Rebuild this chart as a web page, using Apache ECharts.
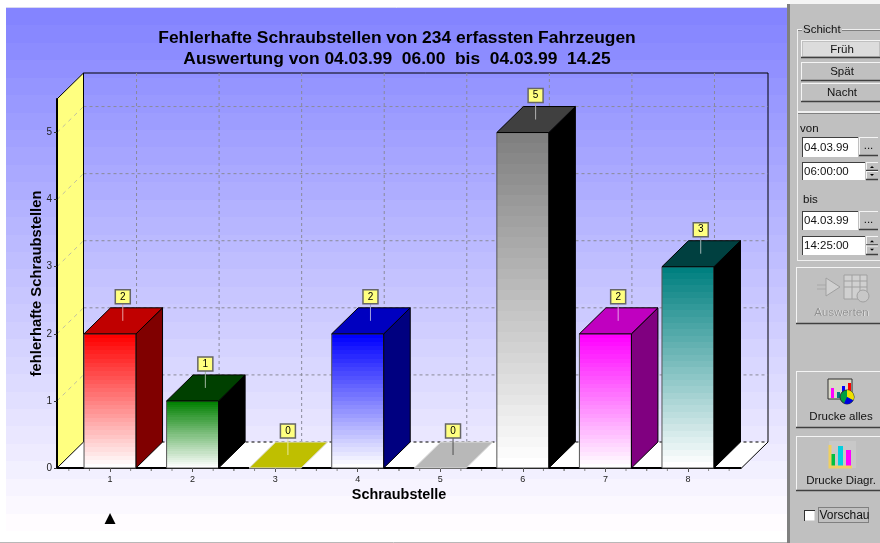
<!DOCTYPE html>
<html><head><meta charset="utf-8">
<style>html,body{margin:0;padding:0;background:#fff}#c{width:880px;height:543px}</style>
<script src="https://cdn.jsdelivr.net/npm/echarts@6/dist/echarts.min.js"></script>
</head><body><div id="c"></div>
<script>
const categories = ['1','2','3','4','5','6','7','8'];
const values = [2,1,0,2,0,5,2,3];
const frontColors = ['#ff0000','#008000','#bfbf00','#0000ff','#b8b8b8','#808080','#ff00ff','#008080'];
const topColors   = ['#c00000','#004000','#bfbf00','#0000c0','#b8b8b8','#404040','#c000c0','#004040'];
const sideColors  = ['#800000','#000000','#000000','#000080','#000000','#000000','#800080','#000000'];
const leaderColors= ['#e8a0a0','#a0b8a0','#e8e8a0','#a0a0e0','#505050','#b0b0b0','#e8a0e8','#a0b8b8'];
const titleText = 'Fehlerhafte Schraubstellen von 234 erfassten Fahrzeugen\nAuswertung von 04.03.99  06.00  bis  04.03.99  14.25';
const yTitle = 'fehlerhafte Schraubstellen';
const xTitle = 'Schraubstelle';
const markerCategory = 0;

const DX = 26.5, DY = 26, HALF = 26, PADL = 11.75, PADR = 12.25;
const FONT = '"Liberation Sans", Arial, sans-serif';

function banded(from, to, n){
  const a = hex(from), b = hex(to), stops = [];
  for (let i = 0; i < n; i++){
    const t = n > 1 ? i/(n-1) : 0;
    const c = 'rgb(' + a.map((v,k)=>Math.round(v+(b[k]-v)*t)).join(',') + ')';
    stops.push({offset:i/n,color:c},{offset:(i+1)/n,color:c});
  }
  return {type:'linear',x:0,y:0,x2:0,y2:1,colorStops:stops};
}
function hex(s){return [1,3,5].map(i=>parseInt(s.substr(i,2),16));}

function renderWalls(params, api){
  const cs = params.coordSys;
  const L = cs.x - PADL, R = cs.x + cs.width + PADR, B = cs.y + cs.height, T = cs.y;
  const kids = [];
  kids.push({type:'polygon',shape:{points:[[L,B],[L+DX,B-DY],[R+DX,B-DY],[R,B]]},style:{fill:'#fff'}});
  kids.push({type:'polyline',shape:{points:[[L+DX,T-DY],[R+DX,T-DY],[R+DX,B-DY],[R,B]]},style:{fill:null,stroke:'#000',lineWidth:1}});
  kids.push({type:'line',shape:{x1:L+DX,y1:B-DY,x2:R+DX,y2:B-DY},style:{stroke:'#000',lineWidth:1,lineDash:[3,3]}});
  for (let v = 1; v <= 5; v++){
    const y = api.coord([0,v])[1];
    kids.push({type:'line',shape:{x1:L+DX,y1:y-DY,x2:R+DX,y2:y-DY},style:{stroke:'#8a8a9a',lineWidth:1,lineDash:[3,3]}});
  }
  for (let i = 0; i < categories.length; i++){
    const x = api.coord([i,0])[0];
    kids.push({type:'line',shape:{x1:x+DX,y1:T-DY,x2:x+DX,y2:B-DY},style:{stroke:'#8a8a9a',lineWidth:1,lineDash:[3,3]}});
    for (const k of [-2,-1,1,2]){
      const mx = x + k*20.6;
      kids.push({type:'line',shape:{x1:mx,y1:B,x2:mx,y2:B+3},style:{stroke:'#888',lineWidth:1}});
    }
  }
  kids.push({type:'polygon',z2:1,shape:{points:[[L,T],[L+DX,T-DY],[L+DX,B-DY],[L,B]]},style:{fill:'#ffff80',stroke:'#000',lineWidth:1}});
  for (let v = 1; v <= 5; v++){
    const y = api.coord([0,v])[1];
    kids.push({type:'line',z2:2,shape:{x1:L,y1:y,x2:L+DX,y2:y-DY},style:{stroke:'#c0c0a0',lineWidth:1,lineDash:[4,4]}});
  }
  kids.push({type:'line',z2:3,shape:{x1:L,y1:B,x2:R,y2:B},style:{stroke:'#000',lineWidth:2}});
  const mx = api.coord([markerCategory,0])[0];
  kids.push({type:'polygon',z2:3,shape:{points:[[mx-5.5,B+56],[mx+5.5,B+56],[mx,B+45]]},style:{fill:'#000'}});
  return {type:'group',children:kids};
}

function renderBar(params, api){
  const i = api.value(0), v = api.value(1);
  const p = api.coord([i,v]), base = api.coord([i,0]);
  const x = p[0], y = p[1], b = base[1];
  const l = x-HALF, r = x+HALF;
  const kids = [];
  if (v > 0){
    kids.push({type:'rect',shape:{x:l,y:y,width:r-l,height:b-y},
      style:{fill:banded(frontColors[i],'#ffffff',32),stroke:'#555',lineWidth:1}});
    kids.push({type:'polygon',shape:{points:[[r,y],[r+DX,y-DY],[r+DX,b-DY],[r,b]]},
      style:{fill:sideColors[i],stroke:'#000',lineWidth:1}});
  }
  kids.push({type:'polygon',shape:{points:[[l,y],[l+DX,y-DY],[r+DX,y-DY],[r,y]]},
    style:{fill:topColors[i],stroke:v>0?'#000':'#ddd',lineWidth:1}});
  const cx = x + DX/2 - 0.5, cy = y - DY/2;
  kids.push({type:'line',z2:4,shape:{x1:cx,y1:cy,x2:cx,y2:y-30},style:{stroke:leaderColors[i],lineWidth:1}});
  kids.push({type:'rect',z2:5,shape:{x:cx-7.5,y:y-44,width:15,height:14},style:{fill:'#ffff80',stroke:'#666',lineWidth:1.5}});
  kids.push({type:'text',z2:6,x:cx,y:y-37,style:{text:String(v),fill:'#000',fontSize:10,fontFamily:FONT,align:'center',verticalAlign:'middle'}});
  return {type:'group',children:kids};
}

/* ---- right-hand control panel ---- */
function T(text,x,y,opt){opt=opt||{};return {type:'text',z:5,x:x,y:y,style:{text:text,fill:opt.fill||'#111',fontSize:opt.size||11.5,fontFamily:FONT,align:opt.align||'left',verticalAlign:'middle'}};}
function R(x,y,w,h,fill,stroke,lw){return {type:'rect',z:4,shape:{x:x,y:y,width:w,height:h},style:{fill:fill,stroke:stroke||null,lineWidth:lw||1}};}
function Ln(x1,y1,x2,y2,c,w,d){return {type:'line',z:4,shape:{x1:x1,y1:y1,x2:x2,y2:y2},style:{stroke:c,lineWidth:w||1,lineDash:d||null}};}
function raised(x,y,w,h){return [R(x,y,w,h,'#c0c0c0'),Ln(x,y+.5,x+w,y+.5,'#f4f4f4'),Ln(x+.5,y,x+.5,y+h,'#f4f4f4'),Ln(x,y+h-.5,x+w,y+h-.5,'#404040',1.5)];}
function input(x,y,w,h,txt){return [R(x,y,w,h,'#fff'),Ln(x,y+.5,x+w,y+.5,'#404040'),Ln(x+.5,y,x+.5,y+h,'#404040'),T(txt,x+2,y+h/2+.5)];}
function groupBox(x,y,w,h){return [Ln(x,y+.5,x+w,y+.5,'#f0f0f0'),Ln(x+.5,y,x+.5,y+h,'#f0f0f0'),Ln(x,y+h-.5,x+w,y+h-.5,'#f0f0f0'),Ln(x+1,y+1.5,x+w,y+1.5,'#808080')];}
function spinner(x,y,h){
  return [].concat(raised(x,y,12,h/2),raised(x,y+h/2,12,h/2),
    [{type:'polygon',z:5,shape:{points:[[x+4,y+h/4+1.5],[x+8,y+h/4+1.5],[x+6,y+h/4-.5]]},style:{fill:'#000'}},
     {type:'polygon',z:5,shape:{points:[[x+4,y+3*h/4-1.5],[x+8,y+3*h/4-1.5],[x+6,y+3*h/4+.5]]},style:{fill:'#000'}}]);
}
const panel = [].concat(
  [{type:'rect',z:-10,shape:{x:6,y:8,width:781,height:523},style:{fill:banded('#8484ff','#fffcff',30)}},
   {type:'line',z:-10,shape:{x1:6,y1:7.5,x2:787,y2:7.5},style:{stroke:'#d8d8f0',lineWidth:1}},
   {type:'line',z:-10,shape:{x1:0,y1:542.5,x2:787,y2:542.5},style:{stroke:'#b8b8b8',lineWidth:1}},
   {type:'rect',z:2,shape:{x:790,y:0,width:90,height:543},style:{fill:'#c0c0c0'}},
   {type:'rect',z:2,shape:{x:787,y:4,width:3,height:539},style:{fill:'#808080'}},
   {type:'rect',z:2,shape:{x:790,y:0,width:90,height:4},style:{fill:'#f4f4f4'}}],
  groupBox(797,29,90,83),
  [R(802,25,40,9,'#c0c0c0'),T('Schicht',803,29.5)],
  raised(801,40,80,18),[R(803,42,76,14,'#dcdcdc'),T('Früh',842,50,{align:'center'})],
  raised(801,62,80,19),[T('Spät',842,71.5,{align:'center'})],
  raised(801,83,80,19),[T('Nacht',842,93,{align:'center'})],
  groupBox(797,112,90,149),
  [T('von',800,129)],
  input(802,137,56,20,'04.03.99'),raised(859,137,19,19),[T('...',868.5,146,{align:'center'})],
  input(802,162,63,18,'06:00:00'),spinner(866,162,18),
  [T('bis',803,200)],
  input(802,211,56,19,'04.03.99'),raised(859,211,19,19),[T('...',868.5,220,{align:'center'})],
  input(802,236,63,19,'14:25:00'),spinner(866,236,19),
  raised(796,267,90,57),
  [Ln(817,285,836,285,'#a8a8a8',1),Ln(817,289,836,289,'#a8a8a8',1),
   {type:'polygon',z:5,shape:{points:[[826,278],[840,287],[826,296]]},style:{fill:'#d0d0d0',stroke:'#a0a0a0'}},
   R(844,275,23,24,'#d0d0d0','#a0a0a0'),Ln(844,281,867,281,'#a0a0a0'),Ln(844,287,867,287,'#a0a0a0'),Ln(852,275,852,299,'#a0a0a0'),Ln(860,275,860,299,'#a0a0a0'),
   {type:'circle',z:5,shape:{cx:863,cy:296,r:6},style:{fill:'#c8c8c8',stroke:'#a0a0a0'}},
   T('Auswerten',842,313,{align:'center',fill:'#f4f4f4'}),T('Auswerten',841.5,312.5,{align:'center',fill:'#909090'})],
  raised(796,371,90,57),
  [R(828,379,24,20,'#d8d8c8','#303030'),R(831,388,3,10,'#ff00ff'),R(837,392,3,6,'#008080'),R(842,386,3,12,'#0000ff'),R(848,383,3,15,'#ff0000'),
   {type:'circle',z:5,shape:{cx:847,cy:397,r:7},style:{fill:'#00a040',stroke:'#303030'}},
   {type:'sector',z:5,shape:{cx:847,cy:397,r:7,r0:0,startAngle:-1.57,endAngle:0.5},style:{fill:'#f0e000'}},
   {type:'sector',z:5,shape:{cx:847,cy:397,r:7,r0:0,startAngle:0.5,endAngle:2},style:{fill:'#0000e0'}},
   T('Drucke alles',841,416.5,{align:'center'})],
  raised(796,436,90,55),
  [R(829,441,27,27,'#c8c8c8'),{type:'polyline',z:5,shape:{points:[[830,445],[830,467],[852,467]]},style:{fill:null,stroke:'#f0d060',lineWidth:3}},
   R(831,454,4,12,'#00c040'),R(838,446,5,20,'#00d0e0'),R(846,450,5,16,'#ff00ff'),
   T('Drucke Diagr.',841,480.5,{align:'center'})],
  [R(804.5,510.5,10,10,'#fff'),Ln(804,510.5,815,510.5,'#303030'),Ln(804.5,510,804.5,521,'#303030'),
   {type:'rect',z:4,shape:{x:818.5,y:507.5,width:50,height:15},style:{fill:null,stroke:'#404040',lineWidth:1,lineDash:[1,1]}},
   T('Vorschau',819.5,515.5,{size:12})]
);

const chart = echarts.init(document.getElementById('c'),null,{width:880,height:543});
chart.setOption({
  animation:false,
  backgroundColor:'#fff',
  title:{text:titleText,left:392,top:23,textAlign:'center',z:6,
    textStyle:{fontFamily:FONT,fontSize:17.4,fontWeight:'bold',color:'#000',lineHeight:21}},
  grid:{left:68.75,top:99,width:660.5,height:369,containLabel:false},
  xAxis:{type:'category',data:categories,z:2,
    name:xTitle,nameLocation:'middle',nameGap:20,nameMoveOverlap:false,
    nameTextStyle:{fontFamily:FONT,fontSize:14.4,fontWeight:'bold',color:'#000'},
    axisLine:{show:false},
    axisTick:{show:true,alignWithLabel:true,length:4,lineStyle:{color:'#555'}},
    axisLabel:{fontFamily:FONT,fontSize:9,color:'#222',margin:7},
    splitLine:{show:false}},
  yAxis:{type:'value',min:0,max:5.5,interval:1,offset:11.75,z:2,
    name:yTitle,nameLocation:'middle',nameGap:13,nameRotate:90,nameMoveOverlap:false,
    nameTextStyle:{fontFamily:FONT,fontSize:14.8,fontWeight:'bold',color:'#000'},
    axisLine:{show:true,onZero:false,lineStyle:{color:'#000',width:2}},
    axisTick:{show:true,length:3,lineStyle:{color:'#333'}},
    axisLabel:{fontFamily:FONT,fontSize:10,color:'#222',margin:5,showMaxLabel:false},
    splitLine:{show:false}},
  graphic:{elements:panel},
  series:[
    {type:'custom',name:'walls',z:1,clip:false,silent:true,renderItem:renderWalls,data:[[0,0]],encode:{x:0,y:1}},
    {type:'custom',name:'Schraubstellen',z:3,clip:false,renderItem:renderBar,
      data:values.map((v,i)=>[i,v]),encode:{x:0,y:1}}
  ]
});
</script></body></html>
